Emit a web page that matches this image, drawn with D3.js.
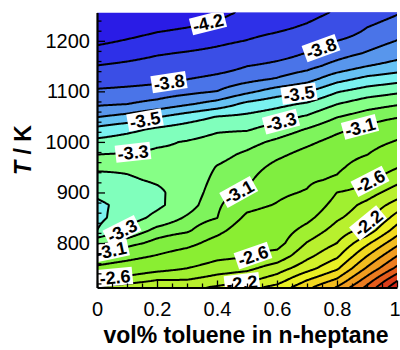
<!DOCTYPE html>
<html>
<head>
<meta charset="utf-8">
<script src="https://cdn.jsdelivr.net/npm/d3@7"></script>
<style>
  body { margin: 0; background: #fff; }
  svg { display: block; }
</style>
</head>
<body>
<svg id="chart" width="400" height="350"></svg>
<script>
// Toluene volume fraction of each grid column
const toluene = [0, 0.1, 0.2, 0.3, 0.4, 0.5, 0.6, 0.7, 0.8, 0.9, 1.0];
// Temperature (K) of each grid row, hot to cold
const temperature = [1256, 1225, 1200, 1175, 1150, 1125, 1100, 1075, 1050, 1025, 1000,
                     975, 950, 925, 900, 875, 850, 825, 800, 775, 750, 725, 712];
// Contoured log value, one row per temperature, one column per toluene fraction
const logValue = [
  [-4.50, -4.45, -4.38, -4.33, -4.26, -4.16, -4.12, -4.06, -3.98, -3.86, -3.81],
  [-4.37, -4.30, -4.235, -4.195, -4.14, -4.07, -4.03, -3.972, -3.89, -3.797, -3.748],
  [-4.245, -4.186, -4.126, -4.09, -4.04, -3.995, -3.939, -3.882, -3.80, -3.746, -3.698],
  [-4.118, -4.071, -4.016, -3.984, -3.952, -3.898, -3.849, -3.794, -3.74, -3.691, -3.64],
  [-3.993, -3.96, -3.923, -3.895, -3.855, -3.801, -3.768, -3.731, -3.665, -3.601, -3.562],
  [-3.877, -3.854, -3.832, -3.804, -3.769, -3.734, -3.694, -3.641, -3.539, -3.475, -3.441],
  [-3.78, -3.768, -3.755, -3.729, -3.699, -3.624, -3.554, -3.51, -3.409, -3.354, -3.319],
  [-3.716, -3.701, -3.669, -3.613, -3.56, -3.475, -3.429, -3.386, -3.302, -3.243, -3.21],
  [-3.606, -3.57, -3.509, -3.451, -3.397, -3.377, -3.341, -3.289, -3.205, -3.154, -3.112],
  [-3.472, -3.429, -3.383, -3.349, -3.313, -3.31, -3.256, -3.194, -3.124, -3.073, -2.999],
  [-3.372, -3.346, -3.313, -3.295, -3.268, -3.233, -3.18, -3.124, -3.061, -2.989, -2.882],
  [-3.299, -3.293, -3.285, -3.285, -3.23, -3.183, -3.124, -3.062, -3.005, -2.904, -2.746],
  [-3.285, -3.288, -3.272, -3.275, -3.195, -3.153, -3.067, -3.005, -2.949, -2.771, -2.611],
  [-3.331, -3.31, -3.29, -3.272, -3.172, -3.124, -3.008, -2.947, -2.864, -2.635, -2.462],
  [-3.381, -3.345, -3.315, -3.262, -3.15, -3.079, -2.95, -2.88, -2.598, -2.491, -2.303],
  [-3.42, -3.37, -3.32, -3.245, -3.127, -2.964, -2.885, -2.768, -2.513, -2.344, -2.117],
  [-3.425, -3.35, -3.273, -3.187, -3.104, -2.855, -2.788, -2.656, -2.429, -2.28, -1.914],
  [-3.40, -3.284, -3.17, -3.124, -2.971, -2.752, -2.72, -2.53, -2.321, -2.12, -1.704],
  [-3.23, -3.151, -3.06, -2.978, -2.806, -2.649, -2.68, -2.39, -2.2, -1.844, -1.462],
  [-3.073, -2.99, -2.89, -2.78, -2.66, -2.62, -2.53, -2.256, -2.04, -1.608, -1.208],
  [-2.849, -2.765, -2.68, -2.60, -2.50, -2.45, -2.30, -2.08, -1.833, -1.373, -0.951],
  [-2.546, -2.489, -2.38, -2.38, -2.30, -2.23, -2.08, -1.785, -1.546, -1.091, -0.603],
  [-2.37, -2.29, -2.2, -2.25, -2.17, -2.07, -1.93, -1.65, -1.38, -0.95, -0.45]
];
// Contour levels
const levels = [-4.2, -4.0, -3.8, -3.7, -3.6, -3.5, -3.4, -3.3, -3.2, -3.1, -2.9,
                -2.6, -2.4, -2.2, -2.0, -1.8, -1.6, -1.4, -1.2, -1.0, -0.8, -0.6];
// Levels that carry an inline label
const labelLevels = [-4.2, -3.8, -3.8, -3.5, -3.5, -3.3, -3.3, -3.3, -3.1, -3.1, -3.1,
                     -2.6, -2.6, -2.6, -2.2, -2.2];
// Axis ticks
const xTicks = [0, 0.2, 0.4, 0.6, 0.8, 1];
const xTickLabels = ["0", "0.2", "0.4", "0.6", "0.8", "1"];
const yTicks = [800, 900, 1000, 1100, 1200];
const yTickLabels = ["800", "900", "1000", "1100", "1200"];

// Band fills, from below the first level up to above the last one
const bandColors = [
  "#2a1ce6", "#2e30e8", "#3a4ee6", "#4a74e8", "#5896ec", "#66c2f4", "#7af2f0",
  "#80ffbc", "#86ff86", "#7ef45c", "#80ee40", "#8aee32", "#a0f030", "#b8f02e",
  "#d2f02a", "#eaf024", "#f2d820", "#f2bc20", "#f09c20", "#ec7c20", "#e45c1c",
  "#dc3e1a", "#d42616"
];

// Where each label sits (toluene fraction, temperature)
const labelSpots = [
  [0.367, 1240], [0.24, 1116], [0.744, 1187], [0.157, 1049], [0.674, 1090],
  [0.12, 982], [0.617, 1031], [0.08, 828], [0.88, 1023], [0.487, 889], [0.05, 780],
  [0.06, 727], [0.52, 774], [0.91, 922], [0.483, 720], [0.91, 837]
];

const svg = d3.select("#chart");
const x = d3.scaleLinear().domain([0, 1]).range([97, 397]);
const y = d3.scaleLinear().domain([712, 1256]).range([287.5, 12.5]);

const colIndex = d3.scaleLinear().domain(toluene).range(d3.range(toluene.length)).clamp(true);
const rowIndex = d3.scaleLinear().domain(temperature).range(d3.range(temperature.length)).clamp(true);

function valueAt(fx, T) {
  const fi = colIndex(fx), fj = rowIndex(T);
  const i0 = Math.min(Math.floor(fi), toluene.length - 2);
  const j0 = Math.min(Math.floor(fj), temperature.length - 2);
  const tx = fi - i0, ty = fj - j0;
  const a = logValue[j0][i0], b = logValue[j0][i0 + 1];
  const c = logValue[j0 + 1][i0], d = logValue[j0 + 1][i0 + 1];
  return (a * (1 - tx) + b * tx) * (1 - ty) + (c * (1 - tx) + d * tx) * ty;
}

// Sample the table on a pixel grid slightly larger than the plot area
const px0 = 94, py0 = 10, nx = 307, ny = 281;
const grid = new Float64Array(nx * ny);
for (let j = 0; j < ny; j++) {
  const T = y.invert(py0 + j);
  for (let i = 0; i < nx; i++) {
    grid[j * nx + i] = valueAt(x.invert(px0 + i), T);
  }
}

const contourGen = d3.contours().size([nx, ny]).thresholds(levels);
const bands = contourGen(grid);
const toScreen = d3.geoTransform({
  point(cx, cy) { this.stream.point(px0 + cx - 0.5, py0 + cy - 0.5); }
});
const path = d3.geoPath(toScreen);

const defs = svg.append("defs");
defs.append("clipPath").attr("id", "plotClip")
  .append("rect").attr("x", 97).attr("y", 12.5).attr("width", 300).attr("height", 275);

const plot = svg.append("g").attr("clip-path", "url(#plotClip)");
plot.append("rect").attr("x", 97).attr("y", 12.5).attr("width", 300).attr("height", 275)
  .attr("fill", bandColors[0]);
plot.selectAll("path.band").data(bands).join("path")
  .attr("class", "band")
  .attr("d", path)
  .attr("fill", (d, i) => bandColors[i + 1])
  .attr("stroke", (d, i) => bandColors[i + 1])
  .attr("stroke-width", 0.6);
plot.selectAll("path.iso").data(bands).join("path")
  .attr("class", "iso")
  .attr("d", path)
  .attr("fill", "none")
  .attr("stroke", "#000")
  .attr("stroke-width", 2)
  .attr("stroke-linejoin", "round");

// Inline labels on the contour lines
const fontFam = "'Liberation Sans', Arial, Helvetica, sans-serif";
const inPlot = p => p[0] > 97.5 && p[0] < 396.5 && p[1] > 13 && p[1] < 287;
labelLevels.forEach((v, k) => {
  const c = bands[levels.indexOf(v)];
  const tx = x(labelSpots[k][0]), ty = y(labelSpots[k][1]);
  let best = null, bestD = Infinity;
  c.coordinates.forEach(poly => poly.forEach(ring => {
    const pts = ring.map(p => [px0 + p[0] - 0.5, py0 + p[1] - 0.5]);
    pts.forEach((p, idx) => {
      if (!inPlot(p)) return;
      const dd = (p[0] - tx) ** 2 + (p[1] - ty) ** 2;
      if (dd < bestD) { bestD = dd; best = { pts, idx }; }
    });
  }));
  if (!best) return;
  const n = best.pts.length, s = 6;
  const p = best.pts[best.idx];
  const pa = best.pts[(best.idx - s + n) % n], pb = best.pts[(best.idx + s) % n];
  let ang = Math.atan2(pb[1] - pa[1], pb[0] - pa[0]) * 180 / Math.PI;
  if (ang > 90) ang -= 180;
  if (ang < -90) ang += 180;
  const g = plot.append("g").attr("transform", `translate(${p[0]},${p[1]}) rotate(${ang})`);
  const rect = g.append("rect").attr("fill", "#fff");
  const t = g.append("text")
    .attr("text-anchor", "middle")
    .attr("dy", "0.36em")
    .attr("font-family", fontFam)
    .attr("font-weight", "bold")
    .attr("font-size", 18)
    .attr("fill", "#000")
    .text(d3.format(".1f")(v).replace("−", "-"));
  const w = t.node().getComputedTextLength() + 4;
  rect.attr("x", -w / 2).attr("y", -8.6).attr("width", w).attr("height", 17.2);
});

// Axes with inward ticks
const xMinor = d3.range(0, 1.0001, 0.05).filter(v => Math.abs(v * 5 - Math.round(v * 5)) > 1e-6);
const yMinor = d3.range(720, 1256, 20).filter(v => v % 100 !== 0);

svg.append("g").attr("transform", "translate(0,287.5)")
  .call(d3.axisBottom(x).tickValues(xMinor).tickSizeInner(-4).tickSizeOuter(0).tickFormat(""))
  .call(g => g.select(".domain").remove());
svg.append("g").attr("transform", "translate(97,0)")
  .call(d3.axisLeft(y).tickValues(yMinor).tickSizeInner(-4.5).tickSizeOuter(0).tickFormat(""))
  .call(g => g.select(".domain").remove());

const xAxis = svg.append("g").attr("transform", "translate(0,287.5)")
  .call(d3.axisBottom(x).tickValues(xTicks).tickSizeInner(-7).tickSizeOuter(0)
    .tickPadding(14).tickFormat((d, i) => xTickLabels[i]));
const yAxis = svg.append("g").attr("transform", "translate(97,0)")
  .call(d3.axisLeft(y).tickValues(yTicks).tickSizeInner(-8).tickSizeOuter(0)
    .tickPadding(7).tickFormat((d, i) => yTickLabels[i]));

[xAxis, yAxis].forEach(a => {
  a.selectAll("text").attr("font-family", fontFam).attr("font-size", 20).attr("fill", "#000");
  a.select(".domain").attr("stroke-width", 2.2);
});
// keep the last x label inside the page edge
xAxis.selectAll(".tick text").filter(d => d === 1).attr("text-anchor", "end").attr("dx", 3);
svg.selectAll(".tick line").attr("stroke", "#000").attr("stroke-width", 1.3);

// Axis titles
svg.append("text")
  .attr("x", 246).attr("y", 343)
  .attr("text-anchor", "middle")
  .attr("font-family", fontFam).attr("font-weight", "bold").attr("font-size", 23)
  .text("vol% toluene in n-heptane");

const yt = svg.append("text")
  .attr("transform", "translate(31,150) rotate(-90)")
  .attr("text-anchor", "middle")
  .attr("font-family", fontFam).attr("font-weight", "bold").attr("font-size", 23);
yt.append("tspan").attr("font-style", "italic").text("T");
yt.append("tspan").text(" / K");
</script>
</body>
</html>
